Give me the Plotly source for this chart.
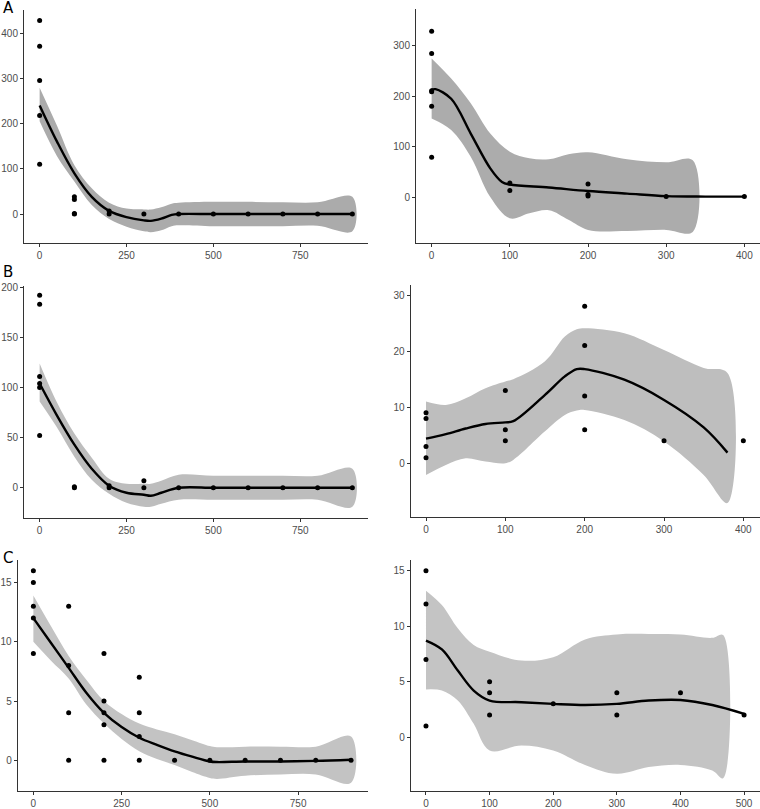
import plotly.graph_objects as go

# ---------------- Data ----------------
# Panel A left
a1_px = [0, 0, 0, 0, 0, 100, 100, 100, 100, 200, 200, 300, 400, 500, 600, 700, 800, 900]
a1_py = [428, 371, 295, 218, 110, 38, 32, 1, 0, 7, 0, 0, 0, 0, 0, 0, 0, 0]
a1_cx = [0, 50, 100, 150, 200, 250, 300, 320, 350, 380, 400, 500, 600, 700, 800, 900]
a1_cy = [240, 160, 90, 38, 7, -7, -14, -15, -10, -2, 0, 0, 0, 0, 0, 0]
a1_up = [279, 195, 108, 57, 25, 12, 10, 10, 15, 23, 25, 27, 27, 26, 26, 38]
a1_lo = [205, 128, 72, 20, -11, -28, -38, -40, -36, -27, -25, -27, -27, -27, -26, -38]

# Panel A right
a2_px = [0, 0, 0, 0, 0, 0, 100, 100, 200, 200, 200, 300, 400]
a2_py = [329, 285, 211, 209, 180, 79, 28, 13, 26, 5, 2, 1, 1]
a2_cx = [0, 5, 25, 50, 75, 90, 100, 150, 200, 250, 300, 350, 400]
a2_cy = [213, 214, 195, 126, 57, 30, 25, 19, 12, 7, 2, 1, 1]
a2_rx = [0, 25, 50, 75, 100, 125, 150, 175, 200, 250, 300, 334]
a2_up = [275, 235, 186, 126, 90, 77, 75, 85, 89, 75, 69, 73]
a2_lo = [156, 133, 80, 0, -42, -32, -26, -45, -65, -67, -65, -69]

# Panel B left
b1_px = [0, 0, 0, 0, 0, 0, 100, 100, 200, 200, 300, 300, 400, 500, 600, 700, 800, 900]
b1_py = [192, 183, 111, 104, 100, 52, 1, 0, 2, 0, 7, 0, 0, 0, 0, 0, 0, 0]
b1_cx = [0, 50, 100, 150, 200, 250, 300, 320, 350, 400, 500, 600, 700, 800, 900]
b1_cy = [104, 72, 43, 19, 2, -5, -7, -8, -5, 0, 0, 0, 0, 0, 0]
b1_up = [124, 85, 54, 30, 9, 4, 4, 4, 7, 13, 12, 12, 12, 12, 19]
b1_lo = [86, 60, 31, 8, -6, -15, -19, -19, -16, -12, -12, -12, -12, -12, -19]

# Panel B right
b2_px = [0, 0, 0, 0, 100, 100, 100, 200, 200, 200, 200, 300, 400]
b2_py = [9, 8, 3, 1, 13, 6, 4, 28, 21, 12, 6, 4, 4]
b2_cx = [0, 25, 50, 75, 100, 110, 150, 175, 190, 200, 250, 300, 350, 380]
b2_cy = [4.4, 5.2, 6.2, 7.0, 7.3, 7.5, 12.2, 15.5, 16.8, 16.8, 14.9, 11.3, 6.4, 1.9]
b2_up = [11.0, 10.4, 11.6, 13.4, 14.6, 15.0, 18.2, 22.6, 23.9, 24.1, 23.2, 20.2, 17.0, 16.1]
b2_lo = [-2.1, -0.3, 0.9, 0.3, 0.0, 0.6, 5.7, 8.6, 9.4, 9.5, 7.7, 3.9, -2.1, -7.1]

# Panel C left
c1_px = [0, 0, 0, 0, 0, 100, 100, 100, 100, 200, 200, 200, 200, 200, 300, 300, 300, 300, 400, 500, 600, 700, 800, 900]
c1_py = [16, 15, 13, 12, 9, 13, 8, 4, 0, 9, 5, 4, 3, 0, 7, 4, 2, 0, 0, 0, 0, 0, 0, 0]
c1_cx = [0, 50, 100, 150, 200, 250, 300, 350, 400, 450, 500, 520, 600, 700, 800, 900]
c1_cy = [12.0, 9.9, 7.8, 5.7, 4.0, 2.8, 1.9, 1.3, 0.75, 0.3, -0.1, -0.15, -0.1, -0.1, -0.05, 0.05]
c1_up = [13.9, 11.3, 8.8, 6.8, 5.0, 3.9, 3.1, 2.6, 2.2, 1.7, 1.2, 1.1, 1.15, 1.15, 1.15, 2.0]
c1_lo = [10.0, 8.4, 6.9, 4.7, 3.1, 1.8, 0.76, 0.1, -0.4, -1.0, -1.5, -1.57, -1.3, -1.2, -1.2, -1.9]

# Panel C right
c2_px = [0, 0, 0, 0, 100, 100, 100, 200, 300, 300, 400, 500]
c2_py = [15, 12, 7, 1, 5, 4, 2, 3, 4, 2, 4, 2]
c2_cx = [0, 25, 50, 75, 100, 150, 200, 250, 300, 350, 400, 450, 500]
c2_cy = [8.7, 7.9, 6.0, 4.2, 3.3, 3.15, 3.0, 2.9, 3.0, 3.3, 3.35, 2.9, 2.1]
c2_rx = [0, 25, 50, 75, 100, 150, 200, 250, 300, 350, 400, 450, 467]
c2_up = [13.2, 11.9, 9.8, 8.3, 7.7, 6.9, 7.2, 8.8, 9.25, 9.3, 9.25, 8.95, 9.2]
c2_lo = [4.3, 4.2, 3.3, 1.2, -1.2, -0.75, -1.2, -2.5, -3.3, -2.7, -2.5, -3.0, -3.7]

panel_labels = ["A", "B", "C"]

# ---------------- Figure ----------------
W, H = 760, 809
fig = go.Figure()

panels = [
    (a1_px, a1_py, a1_cx, a1_cy, a1_cx, a1_up, a1_lo, "#ABABAB", [-45, 945], [-64, 451], (24, 368), (10, 243), [0, 250, 500, 750], [0, 100, 200, 300, 400]),
    (a2_px, a2_py, a2_cx, a2_cy, a2_rx, a2_up, a2_lo, "#ACACAC", [-20, 420], [-91, 373], (416, 760), (9, 243), [0, 100, 200, 300, 400], [0, 100, 200, 300]),
    (b1_px, b1_py, b1_cx, b1_cy, b1_cx, b1_up, b1_lo, "#BDBDBD", [-45, 945], [-30.5, 201.6], (24, 368), (285.7, 518.3), [0, 250, 500, 750], [0, 50, 100, 150, 200]),
    (b2_px, b2_py, b2_cx, b2_cy, b2_cx, b2_up, b2_lo, "#BEBEBE", [-19.3, 421], [-9.64, 31.8], (410.7, 760), (285, 517.3), [0, 100, 200, 300, 400], [0, 10, 20, 30]),
    (c1_px, c1_py, c1_cx, c1_cy, c1_cx, c1_up, c1_lo, "#C3C3C3", [-44.4, 948], [-2.61, 16.9], (17.7, 368), (560, 791.2), [0, 250, 500, 750], [0, 5, 10, 15]),
    (c2_px, c2_py, c2_cx, c2_cy, c2_rx, c2_up, c2_lo, "#C4C4C4", [-24, 525], [-4.87, 15.96], (410.7, 760), (560, 791.2), [0, 100, 200, 300, 400, 500], [0, 5, 10, 15]),
]

tickfont = dict(family="Liberation Sans, Arial, sans-serif", size=10, color="#4D4D4D")

for i, (px, py, cx, cy, rx, up, lo, fillc, xr, yr, xd, yd, xt, yt) in enumerate(panels):
    n = "" if i == 0 else str(i + 1)
    xa, ya = "x" + n, "y" + n
    fig.add_trace(go.Scatter(
        x=list(rx) + list(rx)[::-1], y=list(up) + list(lo)[::-1],
        fill="toself", fillcolor=fillc, line=dict(width=0, shape="spline"),
        mode="lines", hoverinfo="skip", showlegend=False, xaxis=xa, yaxis=ya))
    fig.add_trace(go.Scatter(
        x=px, y=py, mode="markers", marker=dict(color="black", size=5),
        showlegend=False, xaxis=xa, yaxis=ya))
    fig.add_trace(go.Scatter(
        x=cx, y=cy, mode="lines", line=dict(color="black", width=2.4, shape="spline", smoothing=1.0),
        showlegend=False, xaxis=xa, yaxis=ya))
    axcommon = dict(showline=True, linecolor="#333333", linewidth=1, ticks="outside",
                    ticklen=3, tickcolor="#333333", tickwidth=1, showgrid=False,
                    zeroline=False, tickfont=tickfont, automargin=False)
    fig.layout["xaxis" + n] = dict(domain=[xd[0] / W, xd[1] / W], range=xr, anchor=ya,
                                   tickvals=xt, ticktext=[str(v) for v in xt], **axcommon)
    fig.layout["yaxis" + n] = dict(domain=[1 - yd[1] / H, 1 - yd[0] / H], range=yr, anchor=xa,
                                   tickvals=yt, ticktext=[str(v) for v in yt], **axcommon)

label_y = [8, 272, 558]
for lab, yy in zip(panel_labels, label_y):
    fig.add_annotation(text=lab, x=1 / W, y=1 - yy / H, xref="paper", yref="paper",
                       xanchor="left", yanchor="middle", showarrow=False,
                       font=dict(family="DejaVu Sans, sans-serif", size=15, color="black"))

fig.update_layout(width=W, height=H, margin=dict(l=0, r=0, t=0, b=0, autoexpand=False),
                  plot_bgcolor="white", paper_bgcolor="white", showlegend=False)

fig.write_html("out.html", config={"displayModeBar": False},
               post_script="document.body.style.margin='0';document.body.style.overflow='hidden';")
